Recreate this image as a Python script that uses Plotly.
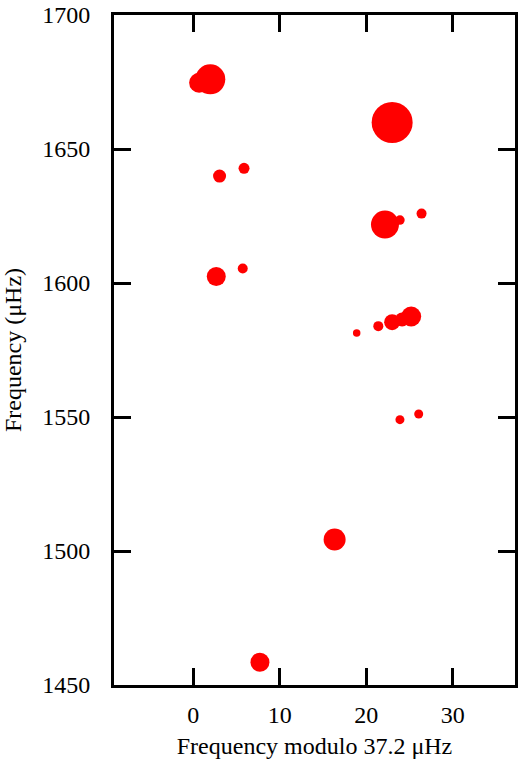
import plotly.graph_objects as go

# Data
freq_mod = [0.69, 1.98, 23.0, 3.05, 5.88, 22.17, 23.9, 26.4, 2.67, 5.73,
            25.2, 24.15, 23.0, 21.4, 18.9, 23.9, 26.07, 16.35, 7.72]
frequency = [1674.7, 1676.0, 1659.9, 1639.9, 1642.8, 1621.8, 1623.5, 1625.9, 1602.4, 1605.4,
             1587.5, 1586.4, 1585.4, 1583.9, 1581.3, 1549.0, 1551.1, 1504.3, 1458.5]
amplitude = [2.0, 3.0, 4.1, 1.3, 1.1, 2.8, 0.95, 1.0, 1.9, 1.0,
             2.0, 1.4, 1.6, 1.0, 0.75, 0.9, 0.9, 2.2, 1.9]

x_ticks = [0, 10, 20, 30]
y_ticks = [1450, 1500, 1550, 1600, 1650, 1700]

size_scale = 10

fig = go.Figure(go.Scatter(
    x=freq_mod, y=frequency, mode="markers",
    marker=dict(size=[a * size_scale for a in amplitude], color="#ff0000",
                line=dict(width=0), opacity=1),
    showlegend=False,
))

font = dict(family="Liberation Serif", size=24, color="black")
axis_common = dict(showline=True, linecolor="black", linewidth=3, mirror="ticks",
                   ticks="inside", ticklen=17, tickwidth=3, tickcolor="black",
                   showgrid=False, zeroline=False, tickfont=font,
                   ticklabeloverflow="allow")

fig.update_xaxes(range=[-9.15, 37.2], tickvals=x_ticks, ticklabelstandoff=6,
                 title=dict(text="Frequency modulo 37.2 μHz", font=font, standoff=11),
                 **axis_common)
fig.update_yaxes(range=[1450, 1700], tickvals=y_ticks, ticklabelstandoff=16,
                 title=dict(text="Frequency (μHz)", font=font, standoff=17),
                 **axis_common)

fig.update_layout(width=520, height=767, margin=dict(l=114, r=2, t=8, b=82),
                  plot_bgcolor="white", paper_bgcolor="white", font=font)

fig.write_html("out.html", config={"displayModeBar": False},
               post_script="document.body.style.margin='0';document.body.style.overflow='hidden';")
